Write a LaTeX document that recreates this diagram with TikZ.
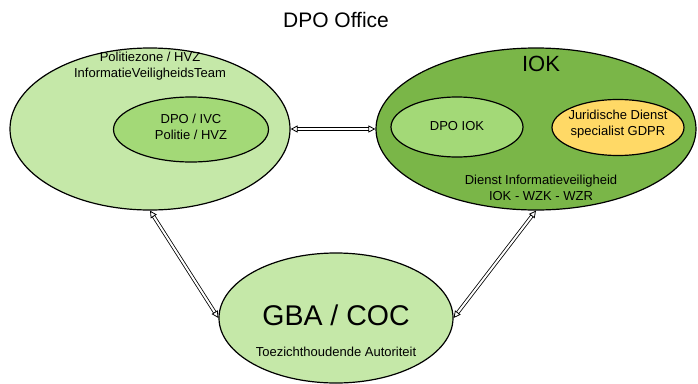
\documentclass[tikz,border=0pt]{standalone}
\usepackage{fontspec}
\setmainfont{Liberation Sans}
\usetikzlibrary{shapes.geometric, arrows.meta}
\definecolor{palegreen}{RGB}{197,232,168}
\definecolor{midgreen}{RGB}{163,217,119}
\definecolor{deepgreen}{RGB}{122,182,72}
\definecolor{softyellow}{RGB}{255,217,102}
\tikzset{
    x=1pt, y=-1pt, % one unit is one pixel of the sketch, y goes down
    zone/.style={ellipse, draw, line width=1.2pt, inner sep=0pt}, % every ellipse
    txt/.style={font=\fontsize{13}{15.5}\selectfont, align=center}, % small texts
    link/.style={double, double distance=2pt, line width=0.8pt,
        {Triangle[open, length=7pt, width=7pt]}-{Triangle[open, length=7pt, width=7pt]}}, % two-way links
    }

\begin{document}
\begin{tikzpicture}
\useasboundingbox (0,0) rectangle (698,383);

\node[font=\fontsize{21}{24}\selectfont, anchor=base] (title) at (336,27) {DPO Office};

% the three bodies
\node[zone, fill=palegreen, minimum width=280pt, minimum height=162pt] (pz) at (150,129) {};
\node[zone, fill=deepgreen, minimum width=320pt, minimum height=162pt] (iok) at (536,129) {};
\node[zone, fill=palegreen, minimum width=234pt, minimum height=130pt] (gba) at (336,318) {};

% inside the police zone
\node[txt] (pztext) at (150,66) {Politiezone / HVZ\\InformatieVeiligheidsTeam};
\node[zone, txt, fill=midgreen, minimum width=155pt, minimum height=65pt] (ivc) at (191,129.5) {};
\node[txt] (ivctext) at (191,127) {DPO / IVC\\Politie / HVZ};

% inside IOK
\node[font=\fontsize{22}{24}\selectfont, anchor=base] (iokname) at (541,71) {IOK};
\node[zone, fill=midgreen, minimum width=132pt, minimum height=60pt] (dpoiok) at (457,127) {};
\node[txt] (dpoioktext) at (457,126) {DPO IOK};
\node[zone, fill=softyellow, minimum width=132pt, minimum height=56pt] (jur) at (618,127.5) {};
\node[txt] (jurtext) at (618,124) {Juridische Dienst\\specialist GDPR};
\node[txt] (divtext) at (541,188) {Dienst Informatieveiligheid\\IOK - WZK - WZR};

% inside GBA
\node[font=\fontsize{28.5}{30}\selectfont, anchor=base] (gbaname) at (336,325) {GBA / COC};
\node[txt, anchor=base] (gbatext) at (336,356) {Toezichthoudende Autoriteit};

\draw[link] (pz) -- (iok);
\draw[link] (pz.south) -- (gba.west);
\draw[link] (iok.south) -- (gba.east);

\end{tikzpicture}
\end{document}
